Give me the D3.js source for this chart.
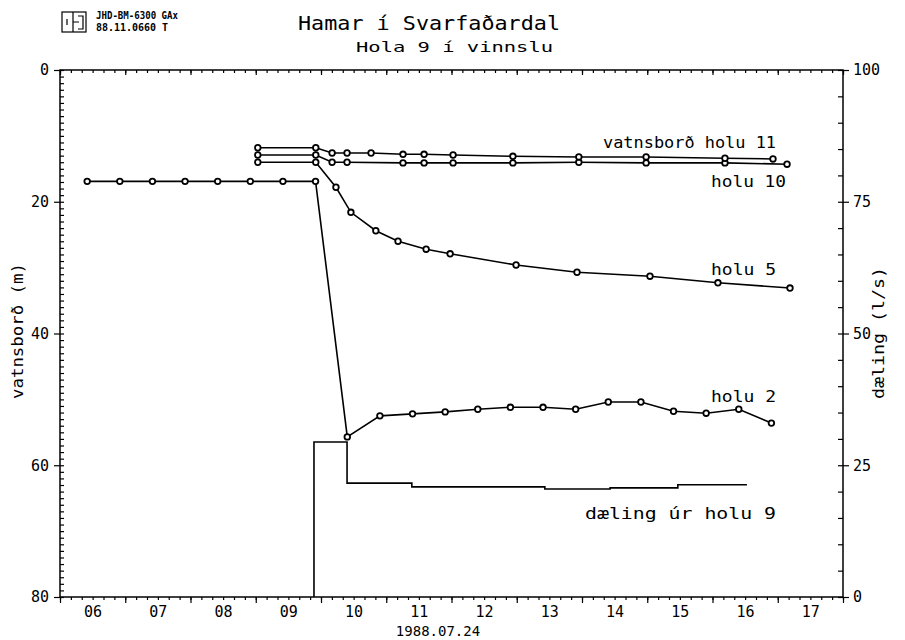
<!DOCTYPE html>
<html>
<head>
<script src="https://d3js.org/d3.v7.min.js"></script>
<style>
  body { margin: 0; background: #fff; }
  text { font-family: "DejaVu Sans Mono", monospace; fill: #000; }
</style>
</head>
<body>
<script>
// all readings are July 1988, written "DD HH:MM"
// water level below surface (m), left axis
var holu2Times = ["06 10:00", "06 22:00", "07 10:00", "07 22:00", "08 10:00", "08 22:00", "09 10:00", "09 22:00",
                  "10 09:40", "10 21:40", "11 09:40", "11 21:40", "12 09:40", "12 21:40", "13 09:40", "13 21:40",
                  "14 09:40", "14 21:40", "15 09:40", "15 21:40", "16 09:40", "16 21:40"];
var holu2Levels = [16.9, 16.9, 16.9, 16.9, 16.9, 16.9, 16.9, 16.9,
                   55.7, 52.5, 52.2, 51.9, 51.5, 51.2, 51.2, 51.5, 50.4, 50.4, 51.8, 52.1, 51.5, 53.6];

var holu5Times = ["09 00:45", "09 22:05", "10 05:30", "10 11:00", "10 20:10", "11 04:20", "11 14:40", "11 23:30",
                  "12 23:45", "13 22:10", "15 01:00", "16 02:00", "17 04:30"];
var holu5Levels = [14.0, 14.0, 17.8, 21.6, 24.4, 26.0, 27.2, 27.9, 29.6, 30.7, 31.3, 32.3, 33.1];

var holu11Times = ["09 00:45", "09 22:05", "10 04:05", "10 09:35", "10 18:25", "11 06:10", "11 13:55", "12 00:35",
                   "12 22:35", "13 22:50", "14 23:35", "16 04:35", "16 22:15"];
var holu11Levels = [11.8, 11.8, 12.6, 12.6, 12.6, 12.8, 12.8, 12.9, 13.1, 13.2, 13.2, 13.4, 13.5];

var holu10Times = ["09 00:45", "09 22:05", "10 04:05", "10 09:35", "11 06:10", "11 13:55", "12 00:35",
                   "12 22:35", "13 22:50", "14 23:35", "16 04:35", "17 03:25"];
var holu10Levels = [12.9, 12.9, 14.0, 14.0, 14.1, 14.1, 14.1, 14.1, 14.0, 14.1, 14.1, 14.3];

// pumping from hole 9 (l/s), right axis, step changes
var pumpTimes = ["09 21:25", "09 21:25", "10 09:35", "11 09:25", "13 10:20", "14 10:20", "15 11:15", "16 12:40"];
var pumpRates = [0, 29.4, 21.6, 20.9, 20.5, 20.7, 21.3, 21.3];

var dayLabels = ["06", "07", "08", "09", "10", "11", "12", "13", "14", "15", "16", "17"];
var leftTicks = [0, 20, 40, 60, 80];
var rightTicks = [0, 25, 50, 75, 100];

var parseTime = d3.timeParse("%Y-%m-%d %H:%M");
function toDate(s) { return parseTime("1988-07-" + s); }
function series(times, vals) {
  return times.map(function(t, i) { return {t: toDate(t), v: vals[i]}; });
}

var W = 905, H = 640;
var pLeft = 60, pRight = 843, pTop = 70, pBottom = 597;

var x = d3.scaleTime().domain([toDate("06 00:00"), toDate("18 00:00")]).range([pLeft, pRight]);
var yL = d3.scaleLinear().domain([0, 80]).range([pTop, pBottom]);
var yR = d3.scaleLinear().domain([0, 100]).range([pBottom, pTop]);

var svg = d3.select("body").append("svg")
    .attr("width", W)
    .attr("height", H);

// frame
svg.append("rect")
    .attr("x", pLeft).attr("y", pTop)
    .attr("width", pRight - pLeft).attr("height", pBottom - pTop)
    .attr("fill", "none").attr("stroke", "#000").attr("stroke-width", 1.5);

function styleAxis(g) {
  g.select(".domain").remove();
  g.selectAll("line").attr("stroke", "#000").attr("stroke-width", 1.2);
  g.selectAll("text").style("font-family", '"DejaVu Sans Mono", monospace').attr("font-size", 15).attr("fill", "#000");
}

// left axis
svg.append("g").attr("transform", "translate(" + pLeft + ",0)")
    .call(d3.axisRight(yL).tickValues(d3.range(0, 81, 1)).tickSize(4).tickFormat(""))
    .call(styleAxis);
svg.append("g").attr("transform", "translate(" + pLeft + ",0)")
    .call(d3.axisLeft(yL).tickValues(leftTicks).tickSize(6).tickPadding(5))
    .call(styleAxis);

// right axis
svg.append("g").attr("transform", "translate(" + pRight + ",0)")
    .call(d3.axisLeft(yR).tickValues(d3.range(0, 101, 5)).tickSize(5).tickFormat(""))
    .call(styleAxis);
svg.append("g").attr("transform", "translate(" + pRight + ",0)")
    .call(d3.axisRight(yR).tickValues(rightTicks).tickSize(6).tickPadding(4))
    .call(styleAxis);

// bottom and top axes
svg.append("g").attr("transform", "translate(0," + pBottom + ")")
    .call(d3.axisBottom(x).ticks(d3.timeHour.every(4)).tickSize(3).tickFormat(""))
    .call(styleAxis);
svg.append("g").attr("transform", "translate(0," + pBottom + ")")
    .call(d3.axisBottom(x).ticks(d3.timeDay.every(1)).tickSize(6).tickFormat(""))
    .call(styleAxis);
svg.append("g").attr("transform", "translate(0," + pBottom + ")")
    .call(d3.axisBottom(x).tickValues(dayLabels.map(function(d) { return toDate(d + " 12:00"); }))
      .tickSize(0).tickPadding(9).tickFormat(d3.timeFormat("%d")))
    .call(styleAxis);
svg.append("g").attr("transform", "translate(0," + pTop + ")")
    .call(d3.axisBottom(x).ticks(d3.timeHour.every(4)).tickSize(3).tickFormat(""))
    .call(styleAxis);
svg.append("g").attr("transform", "translate(0," + pTop + ")")
    .call(d3.axisBottom(x).ticks(d3.timeDay.every(1)).tickSize(5).tickFormat(""))
    .call(styleAxis);

// pumping step line
var pump = series(pumpTimes, pumpRates);
svg.append("path")
    .datum(pump)
    .attr("d", d3.line().x(d => x(d.t)).y(d => yR(d.v)).curve(d3.curveStepAfter))
    .attr("fill", "none").attr("stroke", "#000").attr("stroke-width", 1.6);

// water level series
var levelLine = d3.line().x(d => x(d.t)).y(d => yL(d.v));
[series(holu10Times, holu10Levels), series(holu11Times, holu11Levels),
 series(holu5Times, holu5Levels), series(holu2Times, holu2Levels)].forEach(function(data) {
  svg.append("path")
      .datum(data)
      .attr("d", levelLine)
      .attr("fill", "none").attr("stroke", "#000").attr("stroke-width", 1.6);
  svg.append("g").selectAll("circle")
      .data(data)
    .enter().append("circle")
      .attr("cx", d => x(d.t))
      .attr("cy", d => yL(d.v))
      .attr("r", 2.8)
      .attr("fill", "#fff").attr("stroke", "#000").attr("stroke-width", 1.8);
});

// series labels
function label(txt, xr, yb, len) {
  svg.append("text")
      .attr("x", xr - len).attr("y", yb)
      .attr("font-size", 16)
      .attr("textLength", len).attr("lengthAdjust", "spacingAndGlyphs")
      .text(txt);
}
label("vatnsborð holu 11", 776, 148, 173);
label("holu 10", 786, 187, 75);
label("holu 5", 776, 275, 65);
label("holu 2", 776, 402, 65);
label("dæling úr holu 9", 776, 519, 191);

// axis titles
svg.append("text")
    .attr("transform", "translate(23,331) rotate(-90)")
    .attr("text-anchor", "middle")
    .attr("font-size", 16)
    .attr("textLength", 136).attr("lengthAdjust", "spacingAndGlyphs")
    .text("vatnsborð (m)");
svg.append("text")
    .attr("transform", "translate(884,333) rotate(-90)")
    .attr("text-anchor", "middle")
    .attr("font-size", 16)
    .attr("textLength", 132).attr("lengthAdjust", "spacingAndGlyphs")
    .text("dæling (l/s)");
svg.append("text")
    .attr("x", 438).attr("y", 636)
    .attr("text-anchor", "middle")
    .attr("font-size", 14)
    .text("1988.07.24");

// titles
svg.append("text")
    .attr("x", 298).attr("y", 30)
    .attr("font-size", 19)
    .attr("textLength", 262).attr("lengthAdjust", "spacingAndGlyphs")
    .text("Hamar í Svarfaðardal");
svg.append("text")
    .attr("x", 356).attr("y", 52)
    .attr("font-size", 14)
    .attr("textLength", 197).attr("lengthAdjust", "spacingAndGlyphs")
    .text("Hola 9 í vinnslu");

// header stamp
var logo = svg.append("g").attr("fill", "none").attr("stroke", "#000").attr("stroke-width", 1.2);
logo.append("rect").attr("x", 62).attr("y", 12).attr("width", 24).attr("height", 20);
logo.append("path").attr("d", "M67 19V25 M73 12V32 M73 22H79 M78 16H83V29H78");
svg.append("text")
    .attr("x", 96).attr("y", 19)
    .attr("font-size", 11)
    .attr("font-weight", "bold")
    .attr("textLength", 82).attr("lengthAdjust", "spacingAndGlyphs")
    .text("JHD-BM-6300 GAx");
svg.append("text")
    .attr("x", 96).attr("y", 31)
    .attr("font-size", 11)
    .attr("font-weight", "bold")
    .attr("textLength", 72).attr("lengthAdjust", "spacingAndGlyphs")
    .text("88.11.0660  T");
</script>
</body>
</html>
